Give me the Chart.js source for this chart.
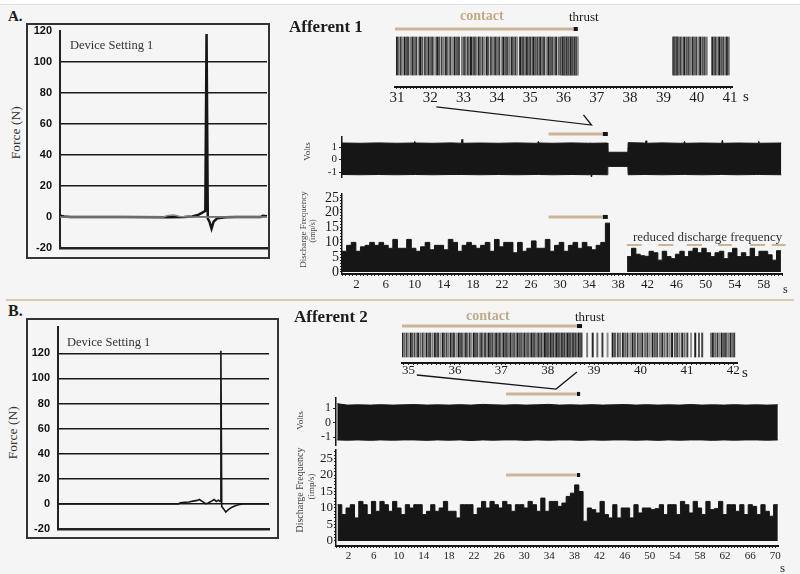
<!DOCTYPE html>
<html lang="en">
<head>
<meta charset="utf-8">
<title>Afferent discharge during thrust</title>
<script src="https://cdn.jsdelivr.net/npm/chart.js@4.4.1/dist/chart.umd.min.js"></script>
<style>
  html, body { margin: 0; padding: 0; }
  body { position: relative; width: 800px; height: 574px; overflow: hidden; background: #f5f5f5;
         font-family: "Liberation Serif", "DejaVu Serif", serif; color: #1c1c1c; }
  canvas, .t, .frame, .rule { position: absolute; }
  .t { white-space: nowrap; line-height: 1; }
  .frame { border: 2px solid #333; box-sizing: border-box; }
  .rot { transform: rotate(-90deg); text-align: center; }
  .b { font-weight: bold; }
</style>
</head>
<body>
<div class="rule" style="left:0;top:0;width:800px;height:4px;background:#fff;border-bottom:1px solid #dedede"></div>
<div class="rule" style="left:6px;top:299px;width:788px;height:2px;background:#d8c9b2"></div>

<div class="frame" style="left:26px;top:23px;width:244px;height:236px"></div>
<div class="frame" style="left:26px;top:318px;width:253px;height:221px"></div>

<canvas id="forceA"></canvas>
<canvas id="forceB"></canvas>
<canvas id="voltsA"></canvas>
<canvas id="histA"></canvas>
<canvas id="rasterA"></canvas>
<canvas id="voltsB"></canvas>
<canvas id="histB"></canvas>
<canvas id="rasterB"></canvas>

<div class="t b" style="left:8px;top:9px;font-size:15px">A.</div>
<div class="t b" style="left:8px;top:303px;font-size:16px">B.</div>
<div class="t" style="left:70px;top:39px;font-size:12.5px;color:#333">Device Setting 1</div>
<div class="t" style="left:67px;top:336px;font-size:12.5px;color:#333">Device Setting 1</div>
<div class="t rot" style="left:-14px;top:126px;width:60px;font-size:13.5px;color:#333">Force (N)</div>
<div class="t rot" style="left:-17px;top:426px;width:60px;font-size:13.5px;color:#333">Force (N)</div>

<div class="t b" style="left:289px;top:18px;font-size:17px">Afferent 1</div>
<div class="t b" style="left:460px;top:9px;font-size:14px;color:#c2aa88">contact</div>
<div class="t" style="left:569px;top:10px;font-size:13px">thrust</div>
<div class="t" style="left:743px;top:89px;font-size:15px">s</div>
<div class="t rot" style="left:292px;top:147px;width:30px;font-size:9px;color:#444">Volts</div>
<div class="t rot" style="left:253px;top:225px;width:100px;font-size:9px;color:#444">Discharge Frequency</div>
<div class="t rot" style="left:293px;top:227px;width:40px;font-size:8px;color:#444">(imp/s)</div>
<div class="t" style="left:633px;top:230px;font-size:13px;color:#333">reduced discharge frequency</div>
<div class="t" style="left:783px;top:283px;font-size:12px">s</div>

<div class="t b" style="left:294px;top:308px;font-size:17px">Afferent 2</div>
<div class="t b" style="left:466px;top:309px;font-size:14px;color:#c2aa88">contact</div>
<div class="t" style="left:575px;top:310px;font-size:13px">thrust</div>
<div class="t" style="left:742px;top:365px;font-size:15px">s</div>
<div class="t rot" style="left:285px;top:416px;width:30px;font-size:9px;color:#444">Volts</div>
<div class="t rot" style="left:250px;top:485px;width:100px;font-size:10px;color:#444">Discharge Frequency</div>
<div class="t rot" style="left:291px;top:482px;width:40px;font-size:9px;color:#444">(imp/s)</div>
<div class="t" style="left:780px;top:561px;font-size:13px">s</div>

<script>
Chart.defaults.font.family = '"Liberation Serif", "DejaVu Serif", serif';
Chart.defaults.color = '#1c1c1c';

const INK = '#161616';
const TAN = '#cbb597';
const SANS = '"Liberation Sans", Arial, sans-serif';
const SHADES = ['#262626', '#6b6b6b', '#3a3a3a', '#8e8e8e', '#1c1c1c', '#575757', '#444444', '#7c7c7c'];

// ---------- force plots (x in % of record) ----------
const forceTicks = [-20, 0, 20, 40, 60, 80, 100, 120];
const forceA_t = [0, 2, 5, 30, 52, 60, 64, 67, 69, 70.2, 70.8, 71.4, 72.2, 73.2, 74.2, 76, 80, 85, 97, 98, 100];
const forceA_f = [0.8, 0.3, 0, 0, -0.2, 0, 0.3, 1.5, 3, 4, 118, -1, -3, -7.5, -3, -0.8, -0.2, 0, 0, 0.8, 0.5];
const forceA2_t = [0, 50, 52, 55, 58, 62, 100];
const forceA2_f = [0, 0, 1, 1.3, 0.3, 0, 0];
const forceB_t = [0, 57, 58, 60, 62, 64, 66, 67, 68.5, 70, 71, 72, 73, 74, 75, 76, 76.8, 77.2, 77.6, 78.5, 79.5, 80.5, 82, 84, 86, 88, 100];
const forceB_f = [0, 0, 0.8, 1.2, 1.5, 2.2, 2.8, 3.5, 1.8, 0.2, 0.5, 1.5, 2.4, 3.5, 2, 3, 2, 122, -2, -4, -6.5, -5, -3, -1.5, -0.5, 0, 0];

// ---------- Afferent 1 ----------
const rasterA_labels = [31, 32, 33, 34, 35, 36, 37, 38, 39, 40, 41];
const spikesA = [31.00, 31.05, 31.12, 31.16, 31.23, 31.30, 31.34, 31.41, 31.47, 31.52, 31.58, 31.66, 31.70, 31.76, 31.84, 31.89, 31.95,
  32.02, 32.07, 32.15, 32.21, 32.26, 32.34, 32.40, 32.47, 32.52, 32.60, 32.66, 32.73, 32.80, 32.86,
  32.95, 33.02, 33.06, 33.13, 33.18, 33.22, 33.29, 33.34, 33.39, 33.46, 33.50, 33.57, 33.63, 33.70, 33.74, 33.82, 33.88, 33.95,
  34.00, 34.07, 34.15, 34.20, 34.27, 34.32, 34.38, 34.45, 34.50, 34.56, 34.61,
  34.70, 34.76, 34.80, 34.85, 34.90, 34.96, 35.01, 35.06, 35.10, 35.16, 35.22, 35.27, 35.31, 35.37, 35.42, 35.49, 35.55, 35.60, 35.66, 35.72, 35.78,
  35.86, 35.92, 35.95, 35.98, 36.01, 36.04, 36.07, 36.10, 36.13, 36.16, 36.19, 36.22, 36.25, 36.28, 36.31, 36.34, 36.37, 36.40, 36.43,
  39.30, 39.33, 39.36, 39.39, 39.42, 39.46, 39.52, 39.58, 39.63, 39.70, 39.76, 39.81, 39.88, 39.93, 39.99,
  40.06, 40.11, 40.18, 40.24, 40.30, 40.47, 40.52, 40.57, 40.63, 40.68, 40.74, 40.80, 40.86, 40.91, 40.96];
const contactA_raster = [30.94, 36.3];
const thrustA_raster = [36.3, 36.43];
const linkA_t = [32.18, 36.84, 36.6];
const linkA_y = [-2.68, -3.63, -3.1];

const voltsTicks = [-1, 0, 1];
const voltsA_t = [0, 2.5, 5, 7.5, 9.9, 10, 10.1, 12.5, 15, 16.4, 16.5, 16.6, 19, 21.5, 24, 26.5, 26.9, 27, 27.1, 29,
  31.5, 34, 34.2, 34.3, 34.4, 36.5, 36.55, 39.3, 39.35, 41.5, 41.7, 41.8, 41.9, 44, 46.5, 47, 47.1, 47.2, 49.5, 52,
  52.2, 52.3, 52.4, 54.5, 57, 57.2, 57.3, 57.4, 60.4];
const voltsA_hi = [1.32, 1.3, 1.33, 1.3, 1.32, 1.45, 1.32, 1.3, 1.33, 1.3, 1.62, 1.3, 1.32, 1.3, 1.33, 1.3, 1.31, 1.45, 1.32, 1.3,
  1.33, 1.3, 1.32, 1.3, 1.3, 1.32, 0.58, 0.58, 1.35, 1.32, 1.3, 1.5, 1.3, 1.33, 1.3, 1.31, 1.45, 1.3, 1.32, 1.3,
  1.3, 1.55, 1.3, 1.32, 1.3, 1.3, 1.45, 1.3, 1.32];
const voltsA_lo = [-1.2, -1.22, -1.2, -1.22, -1.2, -1.2, -1.2, -1.22, -1.2, -1.2, -1.2, -1.2, -1.22, -1.2, -1.22, -1.2, -1.2, -1.2, -1.2, -1.22,
  -1.2, -1.22, -1.2, -1.42, -1.2, -1.22, -0.55, -0.55, -1.22, -1.2, -1.2, -1.2, -1.2, -1.22, -1.2, -1.2, -1.2, -1.2, -1.22, -1.2,
  -1.2, -1.2, -1.2, -1.22, -1.2, -1.2, -1.2, -1.2, -1.22];
const contactA_trace = [28.4, 35.85];
const thrustA_trace = [35.85, 36.55];

const histLabelsA = [2, 6, 10, 14, 18, 22, 26, 30, 34, 38, 42, 46, 50, 54, 58];
const histYLabels = [0, 5, 10, 15, 20, 25];
const histA1_span = [0, 36.85];
const histA1 = [7, 9, 10, 7, 8.5, 9, 10, 9, 10, 9, 8, 11, 8, 8, 11, 8, 7, 8.5, 10, 7.5, 9, 9, 7.5, 11, 10, 7, 9, 10, 9, 8,
  9, 10, 7, 11, 8.5, 10, 10, 6.5, 10, 7, 8, 10.5, 8, 8, 11, 7, 9, 10, 7, 9, 10, 8, 10, 8.5, 7.5, 9, 10, 16.5];
const histA2_span = [39.2, 60.35];
const histA2 = [5.2, 8, 6, 5.5, 5.3, 7, 6.5, 4, 7, 5.2, 4.5, 6, 7, 5.2, 7, 8, 6.5, 8, 6.5, 5.2, 6.5, 7, 4.5, 6.5, 8, 5.2,
  6.5, 5.2, 8, 5.2, 7, 7, 5.8, 4, 7.2];
const reducedA = [[39.16, 41.2], [43.5, 45.56], [47.4, 49.5], [51.7, 53.6], [56.1, 58.2], [59.1, 61.0]];

// ---------- Afferent 2 ----------
const rasterB_labels = [35, 36, 37, 38, 39, 40, 41, 42];
const spikesB = [34.87, 34.91, 34.96, 35.00, 35.05, 35.08, 35.13, 35.18, 35.21, 35.26, 35.31, 35.34, 35.39, 35.44, 35.47, 35.52, 35.57,
  35.61, 35.64, 35.69, 35.74, 35.77, 35.82, 35.86, 35.91, 35.95, 35.98, 36.03, 36.08, 36.11, 36.15, 36.20, 36.24, 36.27, 36.32,
  36.36, 36.41, 36.44, 36.48, 36.53, 36.57, 36.60, 36.65, 36.69, 36.73, 36.77, 36.81, 36.85, 36.89, 36.93, 36.97, 37.01, 37.05,
  37.09, 37.12, 37.16, 37.20, 37.24, 37.28, 37.31, 37.35, 37.39, 37.43, 37.46, 37.50, 37.54, 37.58, 37.61, 37.65, 37.69, 37.72,
  37.76, 37.80, 37.83, 37.87, 37.91, 37.94, 37.98, 38.01, 38.04, 38.07, 38.10, 38.13, 38.16, 38.19, 38.22, 38.25, 38.28, 38.31,
  38.34, 38.37, 38.40, 38.43, 38.46, 38.49, 38.52, 38.55, 38.58, 38.61, 38.64, 38.67, 38.70, 38.73,
  38.85, 38.97, 39.07, 39.18, 39.29,
  39.40, 39.45, 39.51, 39.56, 39.62, 39.67, 39.72, 39.78, 39.83, 39.88, 39.94, 39.99, 40.04, 40.10, 40.15, 40.20, 40.26, 40.31,
  40.36, 40.42, 40.47, 40.52, 40.58, 40.63, 40.68, 40.74, 40.79, 40.84, 40.90, 40.95, 41.01,
  41.09, 41.18, 41.26, 41.33,
  41.52, 41.56, 41.61, 41.66, 41.70, 41.75, 41.80, 41.84, 41.89, 41.94, 41.98, 42.02];
const contactB_raster = [34.86, 38.63];
const thrustB_raster = [38.63, 38.74];
const linkB_t = [35.18, 38.18, 38.63];
const linkB_y = [-2.5, -3.67, -2.25];

const voltsB_t = [0.2, 1.8, 3.5, 5.5, 7.1, 9, 10.8, 12.4, 14.5, 16.2, 18, 19.7, 21.5, 23.4, 25, 26.8, 28.6, 30.3, 32, 33.9, 35.6,
  37.3, 39, 40.8, 42.5, 44.3, 46, 47.8, 49.5, 51.3, 53, 54.8, 56.5, 58.3, 60, 61.8, 63.5, 65.3, 67, 68.7, 70.4];
const voltsB_hi = [1.3, 1.2, 1.22, 1.2, 1.23, 1.2, 1.22, 1.24, 1.2, 1.22, 1.2, 1.23, 1.2, 1.25, 1.22, 1.2, 1.23, 1.2, 1.22, 1.25, 1.2,
  1.22, 1.2, 1.23, 1.2, 1.22, 1.24, 1.2, 1.23, 1.2, 1.22, 1.2, 1.24, 1.2, 1.22, 1.2, 1.23, 1.2, 1.22, 1.2, 1.22];
const voltsB_lo = [-1.2, -1.22, -1.2, -1.23, -1.2, -1.22, -1.2, -1.2, -1.23, -1.2, -1.22, -1.2, -1.24, -1.2, -1.22, -1.2, -1.2, -1.23, -1.2, -1.22, -1.2,
  -1.2, -1.23, -1.2, -1.22, -1.2, -1.2, -1.22, -1.2, -1.23, -1.2, -1.22, -1.2, -1.2, -1.23, -1.2, -1.22, -1.2, -1.2, -1.22, -1.2];
const contactB_trace = [27.1, 38.4];
const thrustB_trace = [38.4, 38.9];

const histLabelsB = [2, 6, 10, 14, 18, 22, 26, 30, 34, 38, 42, 46, 50, 54, 58, 62, 66, 70];
const histB_span = [0.25, 70.4];
const histB = [11, 8, 10, 11, 7, 12, 11, 8, 12, 9, 12, 11, 9, 12, 10, 8, 11, 10, 11, 11, 8, 9, 11, 9, 10, 12, 9, 9, 7, 11,
  11, 11, 8, 10, 12, 10, 12, 11, 10, 12, 11, 9, 11, 11, 10, 12, 11, 9, 13, 9, 12, 12,
  10.5, 11.5, 13.5, 14.5, 17, 15, 6, 10, 9.5, 8.5, 12, 8, 7, 11, 7, 10, 10, 7, 11, 8.5, 10, 10, 9.5, 9.8, 11, 8, 11, 11, 8, 12,
  11, 8.5, 12, 10, 8, 12, 9.5, 9.8, 12, 8, 11, 11, 9, 11, 8, 11, 10.5, 8, 11, 9, 7.5, 11];

// ---------- layout (page pixels) ----------
const GEOM = {
  forceA:  { box: [28, 24, 241, 233], area: [60, 31, 267, 248], yW: 32, xH: 2 },
  forceB:  { box: [28, 320, 249, 217], area: [58, 327, 269, 529], yW: 30, xH: 2 },
  rasterA: { box: [380, 18, 390, 112], area: [395, 33, 732, 87], yW: 0, xH: 20 },
  rasterB: { box: [380, 314, 390, 82], area: [402, 330, 737, 363], yW: 0, xH: 18 },
  voltsA:  { box: [290, 125, 500, 64], area: [342, 137, 782, 177], yW: 52, xH: 0 },
  voltsB:  { box: [290, 385, 500, 72], area: [336, 398, 778, 445], yW: 46, xH: 0 },
  histA:   { box: [290, 182, 500, 114], area: [342, 194, 782, 274], yW: 52, xH: 20 },
  histB:   { box: [290, 438, 500, 136], area: [336, 450, 778, 546], yW: 46, xH: 20 }
};
// y levels of the annotation bars, in each chart's own units
const LEVEL = { rasterA: 1.42, rasterB: 1.58, voltsA: 2.04, voltsB: 1.97, histA: 18.6, histB: 20, reducedA: 9.1, reducedTickA: 6.9 };

function pts(xs, ys) { return xs.map((x, i) => ({ x, y: ys[i] })); }
function flat(xs, y) { return xs.map(x => ({ x, y })); }
function steps(vals, span) {
  const w = (span[1] - span[0]) / vals.length;
  const out = vals.map((v, i) => ({ x: span[0] + i * w, y: v }));
  out.push({ x: span[1], y: vals[vals.length - 1] });
  return out;
}
function dashPts(list, y, yEnd) {
  const out = [];
  list.forEach(([a, b], i) => {
    if (i) out.push({ x: (a + list[i - 1][1]) / 2, y: null });
    out.push({ x: a, y }, { x: b, y });
  });
  out.push({ x: list[list.length - 1][1], y: yEnd });
  return out;
}
function isLabel(v, labels) {
  const r = Math.round(v);
  return Math.abs(v - r) < 1e-6 && labels.includes(r);
}

function make(id, datasets, scales) {
  const g = GEOM[id];
  const [x, y, w, h] = g.box;
  const [l, t, r, b] = g.area;
  const c = document.getElementById(id);
  c.width = w; c.height = h;
  c.style.left = x + 'px'; c.style.top = y + 'px';
  return new Chart(c, {
    type: 'line',
    data: { datasets },
    options: {
      responsive: false, animation: false, events: [],
      layout: { padding: { left: l - x - g.yW, top: t - y, right: x + w - r, bottom: y + h - b - g.xH } },
      plugins: { legend: { display: false }, tooltip: { enabled: false } },
      scales
    }
  });
}

function line(data, color, width, extra) {
  return Object.assign({ data, borderColor: color, borderWidth: width, pointRadius: 0, clip: false, borderCapStyle: 'butt' }, extra || {});
}
function spikeSet(times, thick) {
  return {
    type: 'bar', data: times.map(x => ({ x, y: [-1, 1] })), barThickness: thick, borderWidth: 0,
    backgroundColor: ctx => SHADES[ctx.dataIndex % SHADES.length]
  };
}
function histSet(vals, span) {
  return { data: steps(vals, span), stepped: 'before', fill: 'origin', borderColor: INK, backgroundColor: INK, borderWidth: 1, pointRadius: 0 };
}

function forceY(max, W, hideAbove) {
  return {
    min: -20, max,
    ticks: { stepSize: 20, padding: 0, color: '#111', font: { family: SANS, size: 11, weight: 'bold' },
      callback: v => forceTicks.includes(v) ? v : '' },
    grid: { drawTicks: true, tickLength: 8, tickColor: 'rgba(0,0,0,0)', lineWidth: 1.6,
      color: c => c.tick.value >= hideAbove ? 'rgba(0,0,0,0)' : '#1a1a1a' },
    border: { color: '#222', width: 2 },
    afterFit: s => { s.width = W; }
  };
}
function forceX() {
  return { type: 'linear', min: 0, max: 100, ticks: { display: false }, grid: { display: false },
    border: { color: '#222', width: 2.5 }, afterFit: s => { s.height = 2; } };
}
function rasterX(min, max, labels, size, pad, H) {
  return {
    type: 'linear', min, max, offset: false,
    ticks: { stepSize: 0.1, includeBounds: false, autoSkip: false, maxRotation: 0, minRotation: 0, padding: pad, font: { size },
      callback: v => isLabel(v, labels) ? String(Math.round(v)) : '' },
    grid: { drawOnChartArea: false, offset: false, tickLength: 2, color: '#333', lineWidth: 1 },
    border: { color: INK, width: 2 },
    afterFit: s => { s.height = H; }
  };
}
function traceX(max) {
  return { type: 'linear', display: false, min: 0, max, offset: false };
}
function voltsY(min, max, W, size) {
  return {
    min, max,
    afterBuildTicks: s => { s.ticks = voltsTicks.map(v => ({ value: v })); },
    ticks: { padding: 2, font: { size } },
    grid: { drawOnChartArea: false, tickLength: 3, color: '#222' },
    border: { color: INK, width: 1.5 },
    afterFit: s => { s.width = W; }
  };
}
function histX(max, labels, size, pad, H) {
  return {
    type: 'linear', min: 0, max, offset: false,
    ticks: { stepSize: 0.5, includeBounds: false, autoSkip: false, maxRotation: 0, minRotation: 0, padding: pad, font: { size },
      callback: v => isLabel(v, labels) ? String(Math.round(v)) : '' },
    grid: { drawOnChartArea: false, offset: false, tickLength: 2, color: '#2a2a2a', lineWidth: 1 },
    border: { color: INK, width: 2 },
    afterFit: s => { s.height = H; }
  };
}
function histY(min, max, W, size) {
  return {
    min, max,
    afterBuildTicks: s => { s.ticks = s.ticks.filter(t => t.value >= 0 && Math.abs(t.value - Math.round(t.value)) < 1e-6); },
    ticks: { stepSize: 1, includeBounds: false, autoSkip: false, padding: 1, font: { size },
      callback: v => isLabel(v, histYLabels) ? String(Math.round(v)) : '' },
    grid: { drawOnChartArea: false, tickLength: 2, color: '#222' },
    border: { color: INK, width: 1.5 },
    afterFit: s => { s.width = W; }
  };
}

// ---------- charts ----------
make('forceA', [
  line(pts(forceA2_t, forceA2_f), '#8a8a8a', 1.5, { clip: 0 }),
  line(pts(forceA_t, forceA_f), INK, 2.5, { clip: 0 })
], { x: forceX(), y: forceY(120, 32, 120) });

make('forceB', [
  line(pts(forceB_t, forceB_f), INK, 1.6, { clip: 0 })
], { x: forceX(), y: forceY(141, 30, 121) });

make('rasterA', [
  spikeSet(spikesA, 1.4),
  line(flat(contactA_raster, LEVEL.rasterA), TAN, 3),
  line(flat(thrustA_raster, LEVEL.rasterA), INK, 4),
  line(pts(linkA_t, linkA_y), INK, 1.3)
], { x: rasterX(30.94, 41.06, rasterA_labels, 15, 0, 20), y: { display: false, min: -1.63, max: 1.21 } });

make('voltsA', [
  line(pts(voltsA_t, voltsA_hi), INK, 1, { fill: '+1', backgroundColor: INK, clip: 0 }),
  line(pts(voltsA_t, voltsA_lo), INK, 1, { fill: false, clip: 0 }),
  line(flat(contactA_trace, LEVEL.voltsA), TAN, 3),
  line(flat(thrustA_trace, LEVEL.voltsA), INK, 4)
], { x: traceX(60.5), y: voltsY(-1.4, 1.8, 52, 11) });

make('histA', [
  histSet(histA1, histA1_span),
  histSet(histA2, histA2_span),
  line(flat(contactA_trace, LEVEL.histA), TAN, 3),
  line(flat(thrustA_trace, LEVEL.histA), INK, 4),
  line(dashPts(reducedA, LEVEL.reducedA, LEVEL.reducedTickA), TAN, 2, { spanGaps: false })
], { x: histX(60.5, histLabelsA, 13, 1, 20), y: histY(-0.68, 26.35, 52, 14) });

make('rasterB', [
  spikeSet(spikesB, 1.3),
  line(flat(contactB_raster, LEVEL.rasterB), TAN, 3),
  line(flat(thrustB_raster, LEVEL.rasterB), INK, 4),
  line(pts(linkB_t, linkB_y), INK, 1.3)
], { x: rasterX(34.86, 42.08, rasterB_labels, 13, -2, 18), y: { display: false, min: -1.5, max: 1.25 } });

make('voltsB', [
  line(pts(voltsB_t, voltsB_hi), INK, 1, { fill: '+1', backgroundColor: INK, clip: 0 }),
  line(pts(voltsB_t, voltsB_lo), INK, 1, { fill: false, clip: 0 }),
  line(flat(contactB_trace, LEVEL.voltsB), TAN, 3),
  line(flat(thrustB_trace, LEVEL.voltsB), INK, 4)
], { x: traceX(70.43), y: voltsY(-1.55, 1.69, 46, 12) });

make('histB', [
  histSet(histB, histB_span),
  line(flat(contactB_trace, LEVEL.histB), TAN, 3),
  line(flat(thrustB_trace, LEVEL.histB), INK, 4)
], { x: histX(70.43, histLabelsB, 11, 2, 20), y: histY(-1.52, 27.58, 46, 13) });
</script>
</body>
</html>
